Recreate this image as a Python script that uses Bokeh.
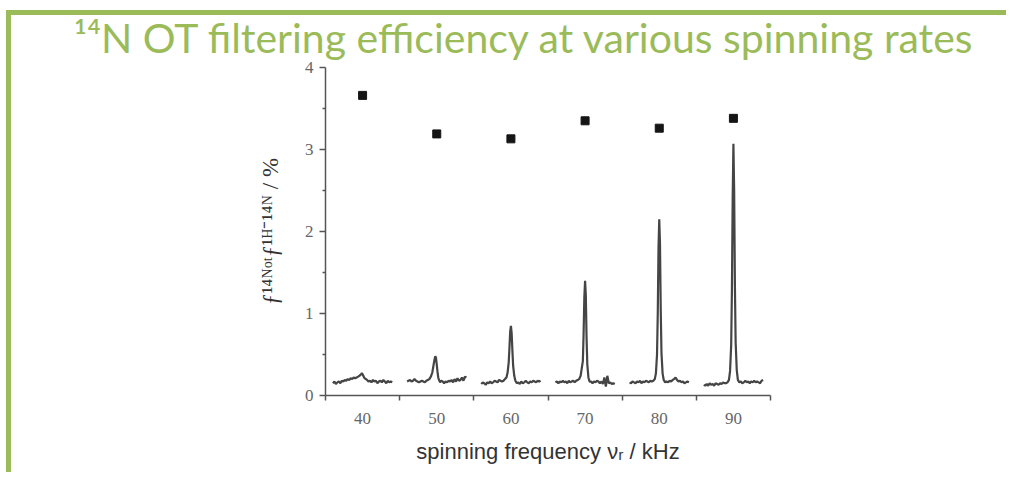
from bokeh.plotting import figure
from bokeh.models import FixedTicker, Range1d, Title
from bokeh.embed import file_html
from bokeh.resources import INLINE

# ---------------- data ----------------
freqs = [40, 50, 60, 70, 80, 90]
efficiency = [3.66, 3.19, 3.13, 3.35, 3.26, 3.38]

# common frequency offsets (kHz) of the plotted spectra, relative to each spinning rate
offsets = [-4.0, -3.8, -3.6, -3.4, -3.2, -3.0, -2.8, -2.6, -2.4, -2.2, -2.0, -1.8, -1.6, -1.4, -1.2, -1.0,
           -0.8, -0.6, -0.45, -0.3, -0.2, -0.1, 0.0, 0.1, 0.2, 0.3, 0.45, 0.6, 0.8,
           1.0, 1.2, 1.4, 1.6, 1.8, 2.0, 2.2, 2.4, 2.6, 2.8, 3.0, 3.2, 3.4, 3.6, 3.8, 4.0]

spec40 = [0.15, 0.17, 0.14, 0.16, 0.17, 0.15, 0.18, 0.17, 0.19, 0.18, 0.20, 0.19, 0.21, 0.20, 0.22, 0.21,
          0.22, 0.23, 0.24, 0.25, 0.26, 0.27, 0.26, 0.24, 0.22, 0.21, 0.20, 0.19, 0.17,
          0.18, 0.16, 0.19, 0.17, 0.18, 0.15, 0.17, 0.18, 0.16, 0.19, 0.17, 0.15, 0.18, 0.16, 0.17, 0.16]
spec50 = [0.17, 0.18, 0.19, 0.17, 0.18, 0.20, 0.18, 0.17, 0.16, 0.17, 0.18, 0.17, 0.16, 0.18, 0.19, 0.20,
          0.23, 0.28, 0.36, 0.44, 0.48, 0.46, 0.38, 0.29, 0.22, 0.19, 0.16, 0.18, 0.17,
          0.15, 0.17, 0.16, 0.18, 0.17, 0.19, 0.16, 0.20, 0.17, 0.21, 0.18, 0.19, 0.22, 0.18, 0.23, 0.22]
spec60 = [0.14, 0.16, 0.15, 0.13, 0.16, 0.15, 0.17, 0.15, 0.16, 0.18, 0.17, 0.16, 0.19, 0.18, 0.17, 0.18,
          0.20, 0.22, 0.28, 0.40, 0.58, 0.78, 0.85, 0.76, 0.55, 0.36, 0.24, 0.18, 0.15,
          0.16, 0.14, 0.17, 0.15, 0.16, 0.18, 0.16, 0.15, 0.17, 0.16, 0.18, 0.17, 0.16, 0.18, 0.17, 0.18]
spec70 = [0.16, 0.17, 0.15, 0.17, 0.16, 0.18, 0.16, 0.17, 0.15, 0.18, 0.16, 0.17, 0.18, 0.16, 0.18, 0.19,
          0.20, 0.24, 0.33, 0.42, 0.75, 1.20, 1.40, 1.22, 0.70, 0.38, 0.22, 0.17, 0.17,
          0.15, 0.17, 0.16, 0.18, 0.17, 0.15, 0.17, 0.14, 0.22, 0.11, 0.24, 0.15, 0.16, 0.14, 0.15, 0.14]
spec80 = [0.16, 0.15, 0.17, 0.16, 0.15, 0.17, 0.16, 0.18, 0.15, 0.17, 0.16, 0.18, 0.17, 0.16, 0.18, 0.17,
          0.18, 0.20, 0.27, 0.50, 1.00, 1.80, 2.15, 1.85, 1.05, 0.52, 0.27, 0.19, 0.16,
          0.17, 0.16, 0.18, 0.17, 0.19, 0.20, 0.22, 0.19, 0.17, 0.18, 0.16, 0.17, 0.15, 0.16, 0.17, 0.16]
spec90 = [0.13, 0.12, 0.14, 0.12, 0.15, 0.13, 0.14, 0.12, 0.15, 0.14, 0.13, 0.15, 0.14, 0.16, 0.15, 0.15,
          0.16, 0.19, 0.30, 0.62, 1.30, 2.40, 3.07, 2.50, 1.35, 0.65, 0.31, 0.19, 0.16,
          0.17, 0.15, 0.16, 0.18, 0.16, 0.17, 0.15, 0.17, 0.16, 0.18, 0.16, 0.17, 0.16, 0.15, 0.18, 0.19]
spectra = [spec40, spec50, spec60, spec70, spec80, spec90]

x_tick_labels = [40, 50, 60, 70, 80, 90]
x_minor_ticks = [35, 45, 55, 65, 75, 85, 95]
y_ticks = [0, 1, 2, 3, 4]
y_minor_ticks = [0.5, 1.5, 2.5, 3.5]

GREEN = "#9BBB59"
W, H = 1006, 472
FRAME_L, FRAME_R, FRAME_T, FRAME_B = 325, 770, 67, 395

p = figure(width=W, height=H, output_backend="svg", toolbar_location=None,
           x_range=Range1d(35, 95), y_range=Range1d(0, 4),
           min_border_left=FRAME_L, min_border_right=W - FRAME_R,
           min_border_top=FRAME_T, min_border_bottom=H - FRAME_B)
p.outline_line_color = None
p.grid.visible = False
p.background_fill_color = "white"
p.border_fill_color = None
# green slide frame (top and left rules) drawn behind the transparent canvas border
p.styles = {
    "background": (f"linear-gradient({GREEN},{GREEN}) 6px 10px / 100% 5px no-repeat, "
                   f"linear-gradient({GREEN},{GREEN}) 6px 10px / 5px 100% no-repeat, white"),
}

# slide title
p.title = Title(text="\u00b9\u2074N OT filtering efficiency at various spinning rates",
                text_font="Lato", text_font_size="41px", text_font_style="normal",
                text_color=GREEN, align="left", offset=73 - FRAME_L, standoff=12)

for f0, spec in zip(freqs, spectra):
    p.line([f0 + o for o in offsets], spec, line_color="#454545", line_width=2.2)

p.scatter(freqs, efficiency, marker="square", size=8, fill_color="#151515", line_color="#151515")

# axes
xa = p.xaxis[0]
xa.ticker = FixedTicker(ticks=x_tick_labels, minor_ticks=x_minor_ticks)
xa.major_tick_out = 0
xa.major_tick_in = 0
xa.minor_tick_out = 5
xa.minor_tick_in = 0
xa.axis_line_color = "#555555"
xa.axis_line_width = 1.5
xa.minor_tick_line_color = "#555555"
xa.minor_tick_line_width = 1.5
xa.major_label_text_font = "Liberation Serif"
xa.major_label_text_font_size = "17px"
xa.major_label_text_color = "#666666"
xa.major_label_standoff = 12
xa.axis_label = "spinning frequency \u03bd\u1d63 / kHz"
xa.axis_label_text_font = "Liberation Sans"
xa.axis_label_text_font_style = "normal"
xa.axis_label_text_font_size = "22px"
xa.axis_label_text_color = "#333333"
xa.axis_label_standoff = 12

ya = p.yaxis[0]
ya.ticker = FixedTicker(ticks=y_ticks, minor_ticks=y_minor_ticks)
ya.major_tick_out = 6
ya.major_tick_in = 0
ya.minor_tick_out = 3
ya.minor_tick_in = 0
ya.axis_line_color = "#555555"
ya.axis_line_width = 1.5
ya.major_tick_line_color = "#555555"
ya.major_tick_line_width = 1.5
ya.minor_tick_line_color = "#555555"
ya.minor_tick_line_width = 1.5
ya.major_label_text_font = "Liberation Serif"
ya.major_label_text_font_size = "17px"
ya.major_label_text_color = "#666666"
ya.major_label_standoff = 6
ya.axis_label = "\u0192\u00b9\u2074\u1d3a\u1d52\u1d57\u0192\u00b9\u1d34\u207b\u00b9\u2074\u1d3a / %"
ya.axis_label_text_font = "Liberation Serif"
ya.axis_label_text_font_style = "normal"
ya.axis_label_text_font_size = "23px"
ya.axis_label_text_color = "#333333"
ya.axis_label_standoff = 19

open("out.html", "w").write(file_html(p, INLINE))
